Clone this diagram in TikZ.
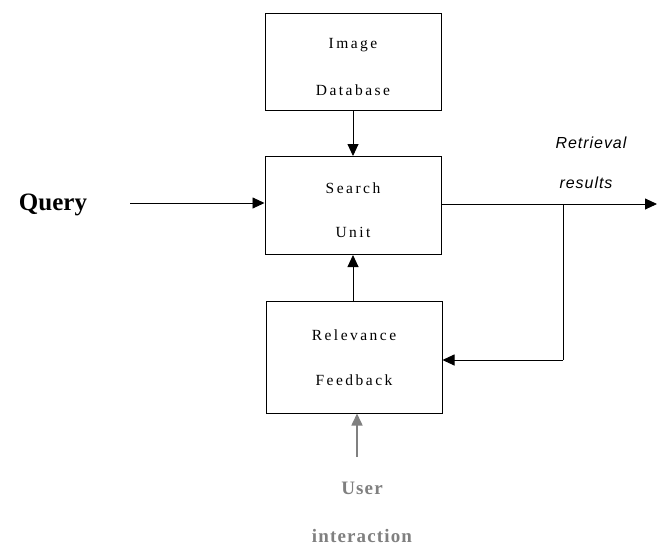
\documentclass[tikz,border=0pt]{standalone}
\usepackage{fontspec}
\setmainfont{Liberation Serif}
\newfontfamily\boxfont[LetterSpace=16]{Liberation Serif}
\newfontfamily\userfont[LetterSpace=6]{Liberation Serif}
\newfontfamily\itsans[LetterSpace=6]{Liberation Sans}
\usetikzlibrary{arrows.meta}
\begin{document}
\begin{tikzpicture}[x=1pt,y=-1pt,
  blk/.style={draw,line width=1pt,minimum width=176pt,inner sep=0pt},
  btxt/.style={font=\boxfont\fontsize{15.5}{17}\selectfont},
  rtxt/.style={font=\itsans\itshape\fontsize{16}{18}\selectfont},
  utxt/.style={font=\userfont\bfseries\fontsize{19}{21}\selectfont,text=gray},
  arr/.style={line width=0.9pt,-{Triangle[length=12pt,width=11pt]}},
  ln/.style={line width=0.9pt}]
\useasboundingbox (0,0) rectangle (657,552);
\node[blk,minimum height=97pt] (db) at (353,61.5) {};
\node[btxt] (dbt1) at (353,45) {Image};
\node[btxt] (dbt2) at (353,90) {Database};
\node[blk,minimum height=98pt] (su) at (353,205.5) {};
\node[btxt] (sut1) at (353,188) {Search};
\node[btxt] (sut2) at (353,232) {Unit};
\node[blk,minimum height=112pt] (rf) at (354,357) {};
\node[btxt] (rft1) at (354,335) {Relevance};
\node[btxt] (rft2) at (354,380) {Feedback};
\node[font=\bfseries\fontsize{25}{28}\selectfont] (q) at (53,205) {Query};
\coordinate (qs) at (130,203);
\coordinate (out) at (657,204);
\coordinate (br) at (563,204);
\coordinate (bl) at (563,360);
\node[rtxt] (rt1) at (591,143) {Retrieval};
\node[rtxt] (rt2) at (586,183) {results};
\node[utxt] (u1) at (362,488) {User};
\node[utxt] (u2) at (362,536) {interaction};
\coordinate (us) at (357,457);
\draw[arr] (db.south) -- (su.north);
\draw[arr] (rf.north -| su.south) -- (su.south);
\draw[arr] (qs) -- (qs -| su.west);
\draw[arr] (su.east |- out) -- (out);
\draw[ln] (br) -- (bl);
\draw[arr] (bl) -- (bl -| rf.east);
\draw[arr,line width=1.6pt,draw=gray,fill=gray] (us) -- (us |- rf.south);
\end{tikzpicture}
\end{document}
